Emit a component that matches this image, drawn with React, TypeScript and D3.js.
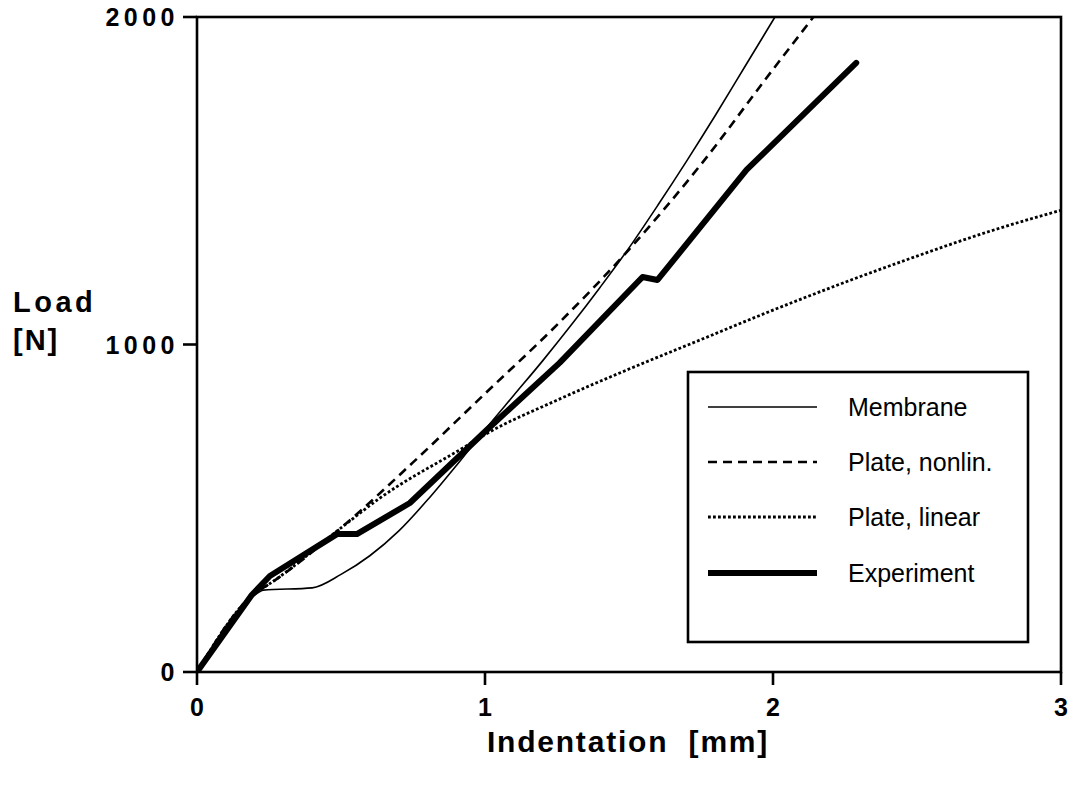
import React from "react";
import * as d3 from "d3";

const xTicks = [0, 1, 2, 3];
const yTicks = [0, 1000, 2000];

const membraneX = [0, 0.2, 0.23, 0.4, 0.5, 0.6, 0.7, 0.8, 0.9, 1.0, 1.1, 1.2, 1.3, 1.4, 1.5, 1.6, 1.7, 1.8, 1.9, 2.0, 2.1];
const membraneY = [0, 235, 250, 257, 298, 355, 430, 525, 630, 740, 845, 950, 1060, 1175, 1295, 1425, 1560, 1700, 1845, 1990, 2135];

const nonlinX = [0, 0.2, 0.25, 0.5, 0.75, 1.0, 1.25, 1.5, 1.75, 2.0, 2.14, 2.2];
const nonlinY = [0, 240, 268, 440, 640, 850, 1060, 1290, 1550, 1840, 2000, 2070];

const linearX = [0, 0.2, 0.25, 0.5, 0.635, 0.923, 1.0, 1.25, 1.5, 1.75, 2.0, 2.25, 2.5, 2.75, 3.0];
const linearY = [0, 240, 268, 440, 531, 684, 725, 830, 925, 1015, 1105, 1190, 1270, 1345, 1410];

const expX = [0, 0.19, 0.253, 0.486, 0.555, 0.739, 1.006, 1.259, 1.547, 1.599, 1.908, 2.289];
const expY = [0, 235, 293, 421, 421, 516, 739, 944, 1206, 1197, 1533, 1860];

const legendLabels = ["Membrane", "Plate, nonlin.", "Plate, linear", "Experiment"];

const W = 1068;
const H = 786;
const left = 197;
const right = 1061;
const top = 17;
const bottom = 672;

export default function App() {
  const x = d3.scaleLinear().domain([0, 3]).range([left, right]);
  const y = d3.scaleLinear().domain([0, 2000]).range([bottom, top]);
  const line = d3
    .line<[number, number]>()
    .x((d) => x(d[0]))
    .y((d) => y(d[1]))
    .curve(d3.curveMonotoneX);
  const lineLin = d3
    .line<[number, number]>()
    .x((d) => x(d[0]))
    .y((d) => y(d[1]));
  const zip = (a: number[], b: number[]) => a.map((v, i) => [v, b[i]] as [number, number]);

  const series = [
    { xs: membraneX, ys: membraneY, w: 1.6, dash: undefined as string | undefined, lin: false, cap: "butt" },
    { xs: nonlinX, ys: nonlinY, w: 2.6, dash: "9,6", lin: false, cap: "butt" },
    { xs: linearX, ys: linearY, w: 2.8, dash: "2.8,2.2", lin: false, cap: "butt" },
    { xs: expX, ys: expY, w: 6, dash: undefined, lin: true, cap: "round" },
  ];

  const legX0 = 688;
  const legY0 = 372;
  const legRows = [407, 462, 517, 573];

  return (
    <svg
      width={W}
      height={H}
      style={{ position: "absolute", left: 0, top: 0, background: "#fff" }}
      fontFamily="'Liberation Sans', Arial, Helvetica, sans-serif"
    >
      <defs>
        <clipPath id="plotClip">
          <rect x={left} y={top} width={right - left} height={bottom - top} />
        </clipPath>
      </defs>
      <g clipPath="url(#plotClip)">
        {series.map((s, i) => (
          <path
            key={i}
            d={(s.lin ? lineLin : line)(zip(s.xs, s.ys)) || ""}
            fill="none"
            stroke="#000"
            strokeWidth={s.w}
            strokeDasharray={s.dash}
            strokeLinejoin="round"
            strokeLinecap={s.cap as any}
          />
        ))}
      </g>
      <rect x={left} y={top} width={right - left} height={bottom - top} fill="none" stroke="#000" strokeWidth={2.6} />
      {yTicks.map((t) => (
        <g key={t}>
          <line x1={left - 14} x2={left} y1={y(t)} y2={y(t)} stroke="#000" strokeWidth={2.6} />
          <text
            x={179}
            y={y(t) + 9}
            textAnchor="end"
            fontSize={25}
            fontWeight="bold"
            letterSpacing={4.5}
          >
            {t}
          </text>
        </g>
      ))}
      {xTicks.map((t) => (
        <g key={t}>
          <line x1={x(t)} x2={x(t)} y1={bottom} y2={bottom + 13} stroke="#000" strokeWidth={2.6} />
          <text x={x(t)} y={716} textAnchor="middle" fontSize={25} fontWeight="bold">
            {t}
          </text>
        </g>
      ))}
      <text x={13} y={312} fontSize={29} fontWeight="bold" letterSpacing={3.5}>
        Load
      </text>
      <text x={13} y={350} fontSize={29} fontWeight="bold" letterSpacing={2}>
        [N]
      </text>
      <text x={628} y={752} textAnchor="middle" fontSize={30} fontWeight="bold" letterSpacing={1.8} xmlSpace="preserve">
        {"Indentation  [mm]"}
      </text>
      <rect x={legX0} y={legY0} width={1028 - legX0} height={642 - legY0} fill="#fff" stroke="#000" strokeWidth={2.6} />
      {legendLabels.map((lab, i) => (
        <g key={lab}>
          <line
            x1={708}
            x2={817}
            y1={legRows[i]}
            y2={legRows[i]}
            stroke="#000"
            strokeWidth={series[i].w}
            strokeDasharray={series[i].dash}
          />
          <text x={848} y={legRows[i]} dominantBaseline="central" fontSize={25}>
            {lab}
          </text>
        </g>
      ))}
    </svg>
  );
}
